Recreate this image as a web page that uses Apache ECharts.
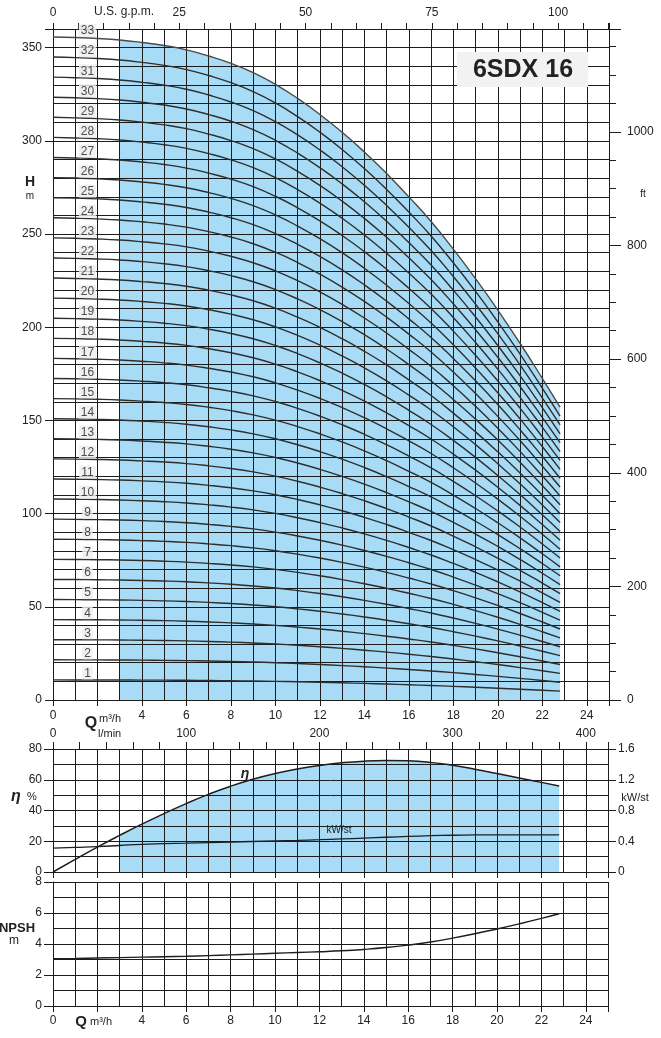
<!DOCTYPE html>
<html><head><meta charset="utf-8">
<script src="https://cdn.jsdelivr.net/npm/echarts@6/dist/echarts.min.js"></script>
<style>html,body{margin:0;padding:0;background:#fff}#c{width:661px;height:1038px}</style>
</head><body><div id="c"></div>
<script>
// ---- data ----
const flowQ = [0,1,2,3,4,5,6,7,8,9,10,11,12,13,14,15,16,17,18,19,20,21,22,22.8];           // m3/h
const headPerStage = [10.78,10.77,10.755,10.73,10.69,10.64,10.57,10.47,10.35,10.20,10.01,9.78,9.52,9.23,8.91,8.56,8.18,7.78,7.33,6.85,6.34,5.80,5.23,4.76]; // m per stage
const stages = [1,2,3,4,5,6,7,8,9,10,11,12,13,14,15,16,17,18,19,20,21,22,23,24,25,26,27,28,29,30,31,32,33];
const efficiency = [0,8.2,16.2,23.8,31.1,38.0,44.5,50.5,55.8,60.3,64.0,67.0,69.3,71.0,72.1,72.5,72.3,71.3,69.4,66.9,64.0,61.1,58.3,56.0]; // %
const powerPerStage = [0.31,0.32,0.33,0.345,0.36,0.368,0.375,0.383,0.39,0.397,0.405,0.412,0.42,0.43,0.44,0.452,0.463,0.472,0.478,0.482,0.484,0.484,0.483,0.482]; // kW/st
const npsh = [3.05,3.07,3.1,3.12,3.15,3.18,3.21,3.25,3.3,3.35,3.4,3.45,3.5,3.56,3.65,3.77,3.93,4.13,4.38,4.66,4.97,5.30,5.65,5.95]; // m
const operatingStartQ = 3;      // start of the shaded operating range
const stageLabelQ = 1.55;
// tick labels
const qLabels = [0,4,6,8,10,12,14,16,18,20,22,24];
const hLabels = [0,50,100,150,200,250,300,350];
const ftLabels = [0,200,400,600,800,1000];
const gpmLabels = [0,25,50,75,100];
const lminLabels = [0,100,200,300,400];
const etaLabels = [0,20,40,60,80];
const kwLabels = [0,0.4,0.8,1.2,1.6];
const npshLabels = [0,2,4,6,8];
const title = '6SDX 16';

// unit conversions
const Q_MAX = 25, H_MAX = 360;
const GPM_PER_M3H = 1/0.227125, LMIN_PER_M3H = 1000/60, FT_PER_M = 1/0.3048;

const BLUE = '#a8dcf6';
const GRID = '#1c1c1c';
const TXT = '#222';
const FONT = 'Liberation Sans, Arial, sans-serif';

function fmt(list){ return v => list.some(l => Math.abs(l - v) < 1e-6) ? String(v) : ''; }
const splitStyle = {show:true, lineStyle:{color:GRID, width:1}};
const axisLineOn = {show:true, onZero:false, lineStyle:{color:GRID, width:1}};
const axisLineOff = {show:false, onZero:false};
const lbl = (extra) => Object.assign({color:TXT, fontSize:12, fontFamily:FONT}, extra);
const tick = (len) => ({show:true, length:len, inside:false, lineStyle:{color:GRID, width:1}});

function gridAxisX(gridIndex){ return {type:'value', gridIndex, position:'bottom', min:0, max:Q_MAX, interval:1, z:3,
  splitLine:splitStyle, axisLine:axisLineOn, axisTick:{show:false}, axisLabel:{show:false}}; }
function tickAxisX(gridIndex, showLabels, margin){ return {type:'value', gridIndex, position:'bottom', min:0, max:Q_MAX, interval:2, z:3,
  splitLine:{show:false}, axisLine:axisLineOff, axisTick:tick(6),
  axisLabel: lbl({show:showLabels, margin, formatter: fmt(qLabels)})}; }

const xAxis = [
  gridAxisX(0),                                 //0
  tickAxisX(0, true, 10),                       //1
  {type:'value', gridIndex:0, position:'top', min:0, max:Q_MAX*GPM_PER_M3H, interval:5, z:3,
    splitLine:{show:false}, axisLine:axisLineOn, axisTick:tick(6),
    axisLabel: lbl({margin:10, formatter: fmt(gpmLabels)})},   //2
  gridAxisX(1),                                 //3
  tickAxisX(1, false, 8),                       //4
  {type:'value', gridIndex:1, position:'top', min:0, max:Q_MAX*LMIN_PER_M3H, interval:20, z:3,
    splitLine:{show:false}, axisLine:axisLineOn, axisTick:tick(7),
    axisLabel: lbl({margin:9, formatter: fmt(lminLabels)})},   //5
  gridAxisX(2),                                 //6
  tickAxisX(2, true, 9)                         //7
];

const yAxis = [
  {type:'value', gridIndex:0, position:'left', min:0, max:H_MAX, interval:10, z:3,
    splitLine:splitStyle, axisLine:axisLineOn, axisTick:{show:false}, axisLabel:{show:false}},   //0
  {type:'value', gridIndex:0, position:'left', min:0, max:H_MAX, interval:50, z:3,
    splitLine:{show:false}, axisLine:axisLineOff, axisTick:tick(8),
    axisLabel: lbl({margin:11, formatter: fmt(hLabels)})},   //1
  {type:'value', gridIndex:0, position:'right', min:0, max:H_MAX*FT_PER_M, interval:200, z:3,
    splitLine:{show:false}, axisLine:axisLineOn, axisTick:tick(12),
    axisLabel: lbl({margin:18, formatter: fmt(ftLabels)})},  //2
  {type:'value', gridIndex:0, position:'right', min:0, max:H_MAX*FT_PER_M, interval:50, z:3,
    splitLine:{show:false}, axisLine:axisLineOff, axisTick:tick(7),
    axisLabel:{show:false}},  //3
  {type:'value', gridIndex:1, position:'left', min:0, max:80, interval:10, z:3,
    splitLine:splitStyle, axisLine:axisLineOn, axisTick:{show:false}, axisLabel:{show:false}},  //4
  {type:'value', gridIndex:1, position:'left', min:0, max:80, interval:20, z:3,
    splitLine:{show:false}, axisLine:axisLineOff, axisTick:tick(9),
    axisLabel: lbl({margin:11, formatter: fmt(etaLabels)})},  //5
  {type:'value', gridIndex:1, position:'right', min:0, max:1.6, interval:0.4, z:3,
    splitLine:{show:false}, axisLine:axisLineOn, axisTick:tick(8),
    axisLabel: lbl({margin:10, formatter: fmt(kwLabels)})},  //6
  {type:'value', gridIndex:2, position:'left', min:0, max:8, interval:1, z:3,
    splitLine:splitStyle, axisLine:axisLineOn, axisTick:{show:false}, axisLabel:{show:false}},  //7
  {type:'value', gridIndex:2, position:'left', min:0, max:8, interval:2, z:3,
    splitLine:{show:false}, axisLine:axisLineOff, axisTick:tick(9),
    axisLabel: lbl({margin:11, formatter: fmt(npshLabels)})}  //8
];

const series = [];
const SMOOTH = 0.5;
const maxStage = stages[stages.length-1];
// operating-range shading under the largest stage curve
series.push({type:'line', xAxisIndex:0, yAxisIndex:0, z:1, silent:true, symbol:'none', smooth:SMOOTH,
  lineStyle:{width:0}, areaStyle:{color:BLUE, opacity:1},
  data: flowQ.map((q,i)=>[q, maxStage*headPerStage[i]]).filter(p=>p[0]>=operatingStartQ)});
// stage curves
stages.forEach(n => {
  series.push({type:'line', xAxisIndex:0, yAxisIndex:0, z:5, silent:true, symbol:'none', smooth:SMOOTH,
    lineStyle:{color: n===maxStage ? '#4a4a4a' : '#2e2e2e', width: 1.4},
    data: flowQ.map((q,i)=>[q, n*headPerStage[i]])});
});
// stage number labels
series.push({type:'scatter', xAxisIndex:0, yAxisIndex:0, z:6, silent:true, symbolSize:1,
  itemStyle:{color:'rgba(0,0,0,0)'},
  label:{show:true, position:'top', distance:0, formatter: p => String(p.data[2]),
    color:TXT, fontSize:12, fontFamily:FONT, backgroundColor:'#eeeeee', padding:[1,2,0,2]},
  data: stages.map(n => [stageLabelQ, n*headPerStage[1], n])});
// efficiency
series.push({type:'line', xAxisIndex:3, yAxisIndex:4, z:1, silent:true, symbol:'none', smooth:SMOOTH,
  lineStyle:{width:0}, areaStyle:{color:BLUE, opacity:1},
  data: flowQ.map((q,i)=>[q, efficiency[i]]).filter(p=>p[0]>=operatingStartQ)});
series.push({type:'line', xAxisIndex:3, yAxisIndex:4, z:5, silent:true, symbol:'none', smooth:SMOOTH,
  lineStyle:{color:'#1e1e1e', width:1.5}, data: flowQ.map((q,i)=>[q, efficiency[i]])});
series.push({type:'line', xAxisIndex:3, yAxisIndex:6, z:5, silent:true, symbol:'none', smooth:SMOOTH,
  lineStyle:{color:'#1e1e1e', width:1.3}, data: flowQ.map((q,i)=>[q, powerPerStage[i]])});
// NPSH
series.push({type:'line', xAxisIndex:6, yAxisIndex:7, z:5, silent:true, symbol:'none', smooth:SMOOTH,
  lineStyle:{color:'#1e1e1e', width:1.4}, data: flowQ.map((q,i)=>[q, npsh[i]])});

function t(text, x, y, size, opts){
  return {type:'text', z:10, style:Object.assign({text, x, y, fill:TXT, textAlign:'center', textVerticalAlign:'middle',
    font: (opts && opts.font ? opts.font : '') + ' ' + size + 'px ' + FONT}, opts && opts.style)};
}

const graphic = [
  t('H', 30, 182, 14, {font:'bold'}),
  t('m', 30, 196, 10),
  t('ft', 643, 194, 10),
  t('U.S. g.p.m.', 124, 12, 12),
  {type:'rect', z:9, shape:{x:457, y:52, width:131, height:35}, style:{fill:'#f2f2f2'}},
  t(title, 523, 70, 25, {font:'bold'}),
  t('Q', 91, 724, 16, {font:'bold'}),
  t('m³/h', 99, 719, 11, {style:{textAlign:'left'}}),
  t('l/min', 98, 734, 11, {style:{textAlign:'left'}}),
  t('η', 16, 797, 16, {font:'italic bold'}),
  t('%', 32, 797, 11),
  t('kW/st', 635, 798, 11),
  t('η', 245, 774, 14, {font:'italic bold'}),
  t('kW/st', 339, 830, 10),
  t('NPSH', 17, 928, 13, {font:'bold'}),
  t('m', 14, 941, 12),
  t('Q', 81, 1022, 15, {font:'bold'}),
  t('m³/h', 90, 1022, 11, {style:{textAlign:'left'}})
];

const chart = echarts.init(document.getElementById('c'), null, {renderer:'canvas'});
chart.setOption({
  animation:false,
  backgroundColor:'#ffffff',
  grid:[
    {left:53, top:29, width:556, height:671, show:false},
    {left:53, top:749, width:555, height:123, show:false},
    {left:53, top:882, width:555, height:124, show:false}
  ],
  xAxis, yAxis, series, graphic
});
</script></body></html>
